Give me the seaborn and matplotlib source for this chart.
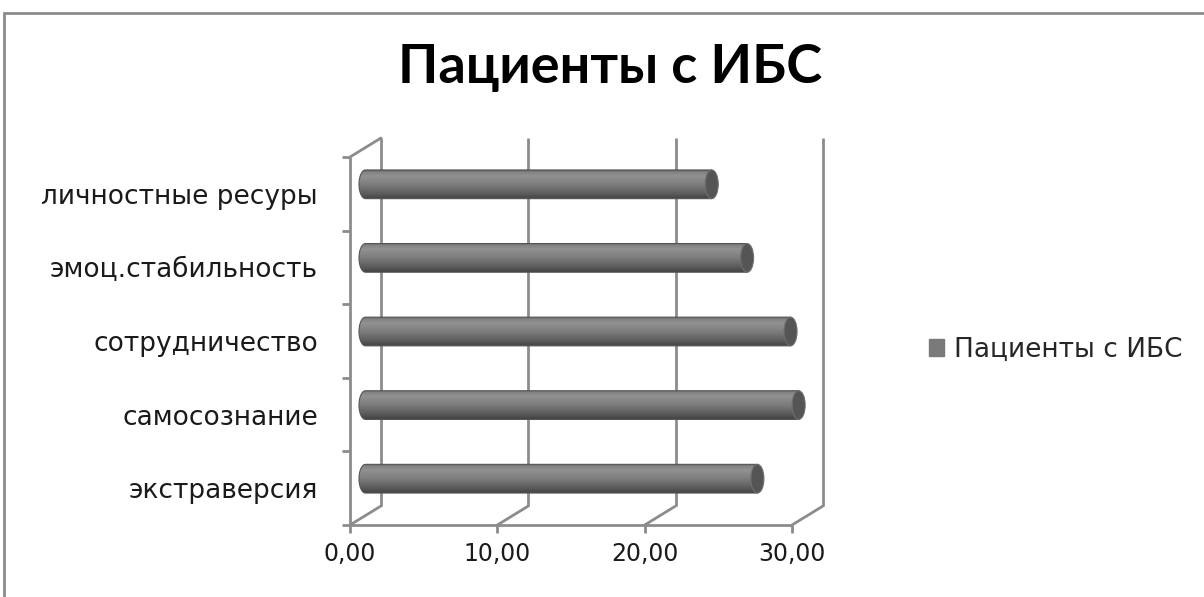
import numpy as np
import pandas as pd
import matplotlib
matplotlib.use("Agg")
import matplotlib.pyplot as plt
import seaborn as sns
from matplotlib.patches import PathPatch, Ellipse, Rectangle, Patch
from matplotlib.path import Path
from matplotlib.lines import Line2D
from matplotlib.transforms import ScaledTranslation

# Data
categories = ["личностные ресуры", "эмоц.стабильность", "сотрудничество",
              "самосознание", "экстраверсия"]
values = [23.5, 25.9, 28.85, 29.4, 26.6]
series_name = "Пациенты с ИБС"
title = "Пациенты с ИБС"
x_ticks = [0, 10, 20, 30]
x_tick_labels = ["0,00", "10,00", "20,00", "30,00"]

sns.set_theme(style="white")
plt.rcParams["font.family"] = ["DejaVu Sans"]

W, H = 1204, 597
fig = plt.figure(figsize=(W / 100, H / 100), dpi=100)
fig.patch.set_facecolor("white")

# chart frame
fig.patches.append(Rectangle((4 / W, -0.1), 1.2, 1 - 13 / H + 0.1,
                             transform=fig.transFigure, fill=False,
                             edgecolor="#8c8c8c", lw=2))

# front plane of the plot area (pixels: left 350, right 792, top 157, floor 525)
L, R, T, B = 350, 792, 157, 525
ax = fig.add_axes([L / W, 1 - B / H, (R - L) / W, (B - T) / H])
ax.set_facecolor("none")

df = pd.DataFrame({"cat": categories, "val": values})
sns.barplot(data=df, x="val", y="cat", orient="h", width=0.39,
            color="#7f7f7f", ax=ax)

ax.set_xlim(0, 30)
ax.set_ylim(len(categories) - 0.5, -0.5)
for s in ax.spines.values():
    s.set_visible(False)
ax.set_xlabel("")
ax.set_ylabel("")
ax.set_xticks(x_ticks)
ax.set_xticklabels(x_tick_labels)
ax.tick_params(axis="both", length=0, colors="#1a1a1a")
ax.tick_params(axis="x", pad=12, labelsize=17)
ax.tick_params(axis="y", pad=23, labelsize=19)

# depth offsets (back wall and bar mid-depth)
DX, DY = 31, 19
back = ax.transData + ScaledTranslation(DX / 100, DY / 100, fig.dpi_scale_trans)
mid = ax.transData + ScaledTranslation(DX / 200, DY / 200, fig.dpi_scale_trans)
front = ax.transData

wall = dict(color="#8c8c8c", lw=2, clip_on=False, solid_capstyle="butt")
y_top, y_bot = -0.5, len(categories) - 0.5


def seg(p, q, tr):
    ax.add_line(Line2D([p[0], q[0]], [p[1], q[1]], transform=tr, **wall))


def depth_seg(x, y):
    # joins a front point to its back counterpart
    p = ax.transData.transform((x, y))
    pts = fig.transFigure.inverted().transform([p, p + np.array([DX, DY])])
    fig.add_artist(Line2D(pts[:, 0], pts[:, 1], transform=fig.transFigure,
                          color="#8c8c8c", lw=2))


# back gridlines
for xv in x_ticks:
    seg((xv, y_top), (xv, y_bot), back)
    depth_seg(xv, y_bot)
# front floor edge and left edge
seg((0, y_bot), (30, y_bot), front)
seg((0, y_top), (0, y_bot), front)
depth_seg(0, y_top)

# tick marks
pix_x = 1 / 14.733  # data units per pixel on x
pix_y = 1 / 73.6
for k in range(len(categories) + 1):
    yv = -0.5 + k
    seg((-8 * pix_x, yv), (0, yv), front)
for xv in x_ticks:
    seg((xv, y_bot), (xv, y_bot + 8 * pix_y), front)

# cylinders built on the seaborn bar geometry
grad_t = np.linspace(0, 1, 64)
shade = np.interp(grad_t, [0, 0.05, 0.2, 0.5, 0.8, 0.93, 1.0],
                  [0.36, 0.50, 0.57, 0.49, 0.37, 0.30, 0.27])
grad = np.repeat(shade[:, None], 2, axis=1)
rx = 6.5 * pix_x

for bar in list(ax.patches):
    x0, w = bar.get_x(), bar.get_width()
    y0, h = bar.get_y(), bar.get_height()
    bar.set_visible(False)
    x1 = x0 + w
    ya, yb = y0, y0 + h          # ya is visually the top (inverted axis)
    yc = (ya + yb) / 2
    # outline: straight top/bottom, elliptical left end
    th = np.linspace(np.pi / 2, 3 * np.pi / 2, 40)
    verts = [(x1, ya)]
    verts += [(x0 + rx * np.cos(t), yc - (h / 2) * np.sin(t)) for t in th]
    verts += [(x1, yb), (x1, ya)]
    body = PathPatch(Path(verts, closed=True), facecolor="none",
                     edgecolor="#555555", lw=0.8, transform=mid, zorder=3,
                     clip_on=False)
    ax.add_patch(body)
    im = ax.imshow(grad, cmap="gray", vmin=0, vmax=1, aspect="auto",
                   extent=(x0 - rx, x1, yb, ya), origin="upper",
                   interpolation="bilinear", zorder=2)
    im.set_transform(mid)
    im.set_clip_box(fig.bbox)
    im.set_clip_path(body)
    cap = Ellipse((x1, yc), 2 * rx, h, facecolor="#555555",
                  edgecolor="#6e6e6e", lw=0.8, transform=mid, zorder=4,
                  clip_on=False)
    ax.add_patch(cap)

ax.set_xlim(0, 30)
ax.set_ylim(len(categories) - 0.5, -0.5)
ax.set_aspect("auto")

fig.text(610 / W, 1 - 68 / H, title, ha="center", va="center",
         fontsize=39, fontweight="bold", family=["Lato", "DejaVu Sans"],
         color="black")

handle = Patch(facecolor="#7a7a7a", edgecolor="#7a7a7a")
fig.legend([handle], [series_name], loc="center left",
           bbox_to_anchor=(918 / W, 1 - 350 / H), frameon=False,
           fontsize=19, handlelength=0.6, handleheight=0.6,
           handletextpad=0.35, borderaxespad=0)

fig.savefig("out.png", dpi=100)
